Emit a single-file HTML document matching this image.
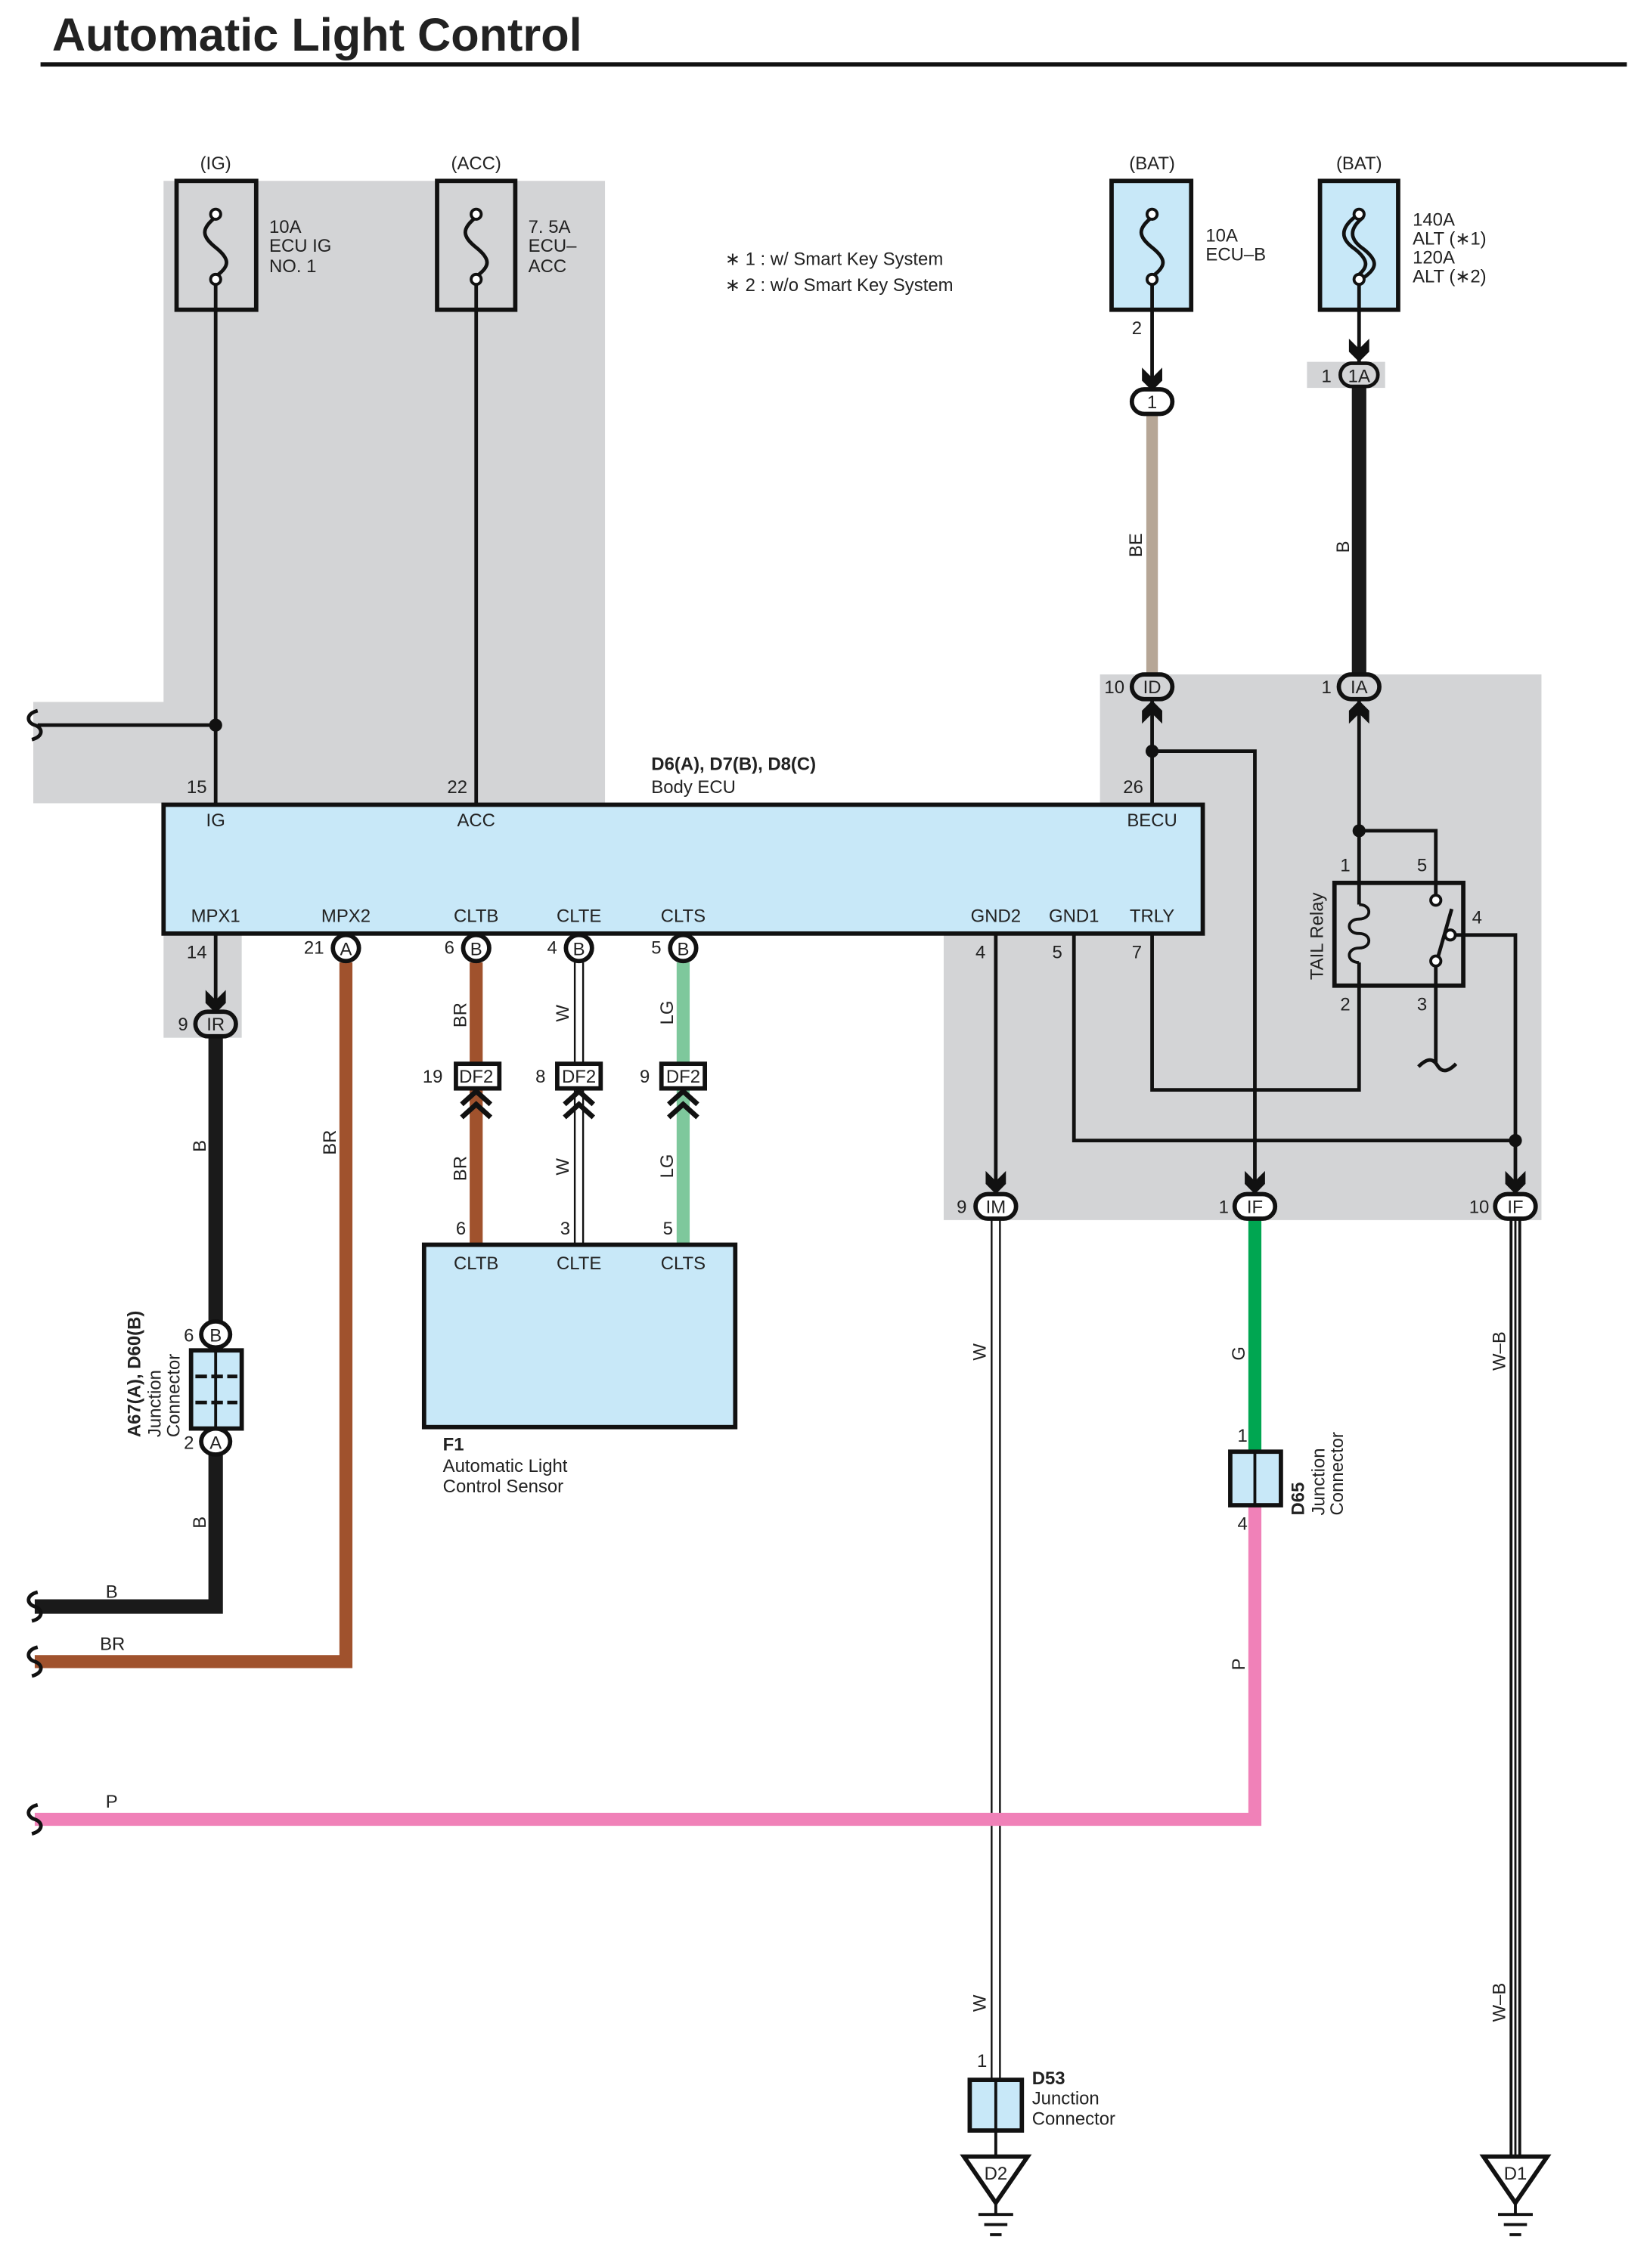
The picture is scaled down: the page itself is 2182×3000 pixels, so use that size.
<!DOCTYPE html>
<html><head><meta charset="utf-8"><style>
html,body{margin:0;padding:0;background:#fff}
svg{display:block}
text{font-family:"Liberation Sans",sans-serif;font-size:12.5px;fill:#222}
.b{font-weight:bold}
</style></head><body>
<svg width="2182" height="3000" viewBox="0 0 1140 1567" preserveAspectRatio="none" xmlns="http://www.w3.org/2000/svg">
<defs>
<g id="ad"><path d="M-7,-16 L0,-9 L7,-16 L7,-7 L0,0 L-7,-7 Z" fill="#111"/></g>
<g id="au"><path d="M-7,16 L0,9 L7,16 L7,7 L0,0 L-7,7 Z" fill="#111"/></g>
<g id="chev"><path d="M-10,10 L0,1 L10,10 M-10,19 L0,10 L10,19" fill="none" stroke="#111" stroke-width="3.5"/></g>
<g id="brk"><path d="M2,-10 C-6,-8 -6,-2 0,0 C6,2 6,8 -2,10" fill="none" stroke="#111" stroke-width="2.5"/></g>
<g id="gnd"><path d="M-22,0 L22,0 L0,32 Z" fill="#fff" stroke="#111" stroke-width="3"/><path d="M0,32 V40 M-12,40 H12 M-8,47 H8 M-4,54 H4" stroke="#111" stroke-width="2"/></g>
</defs>

<text x="36" y="35" class="b" style="font-size:32px">Automatic Light Control</text>
<rect x="28" y="43" width="1096" height="3" fill="#111"/>

<path d="M113,125 H418 V555 H23 V485 H113 Z" fill="#d3d4d6"/>
<rect x="113" y="645" width="54" height="72" fill="#d3d4d6"/>
<path d="M760,466 H1065 V843 H652 V645 H760 Z" fill="#d3d4d6"/>
<rect x="903" y="250" width="54" height="18" fill="#d3d4d6"/>

<g fill="none" stroke="#111" stroke-width="3">
<rect x="122" y="125" width="55" height="89"/>
<rect x="302" y="125" width="54" height="89"/>
<rect x="768" y="125" width="55" height="89" fill="#c8e8f8"/>
<rect x="912" y="125" width="54" height="89" fill="#c8e8f8"/>
</g>
<g fill="none" stroke="#111" stroke-width="2.5">
<path d="M149,150 C139,158 139,163 149,171 C159,179 159,184 149,191"/>
<path d="M329,150 C319,158 319,163 329,171 C339,179 339,184 329,191"/>
<path d="M796,150 C786,158 786,163 796,171 C806,179 806,184 796,191"/>
<path d="M936,150 C926,158 926,165 936,172 C946,180 946,185 936,192"/>
<path d="M942,150 C932,158 932,165 942,172 C952,180 952,185 942,192"/>
</g>
<g fill="#fff" stroke="#111" stroke-width="2">
<circle cx="149" cy="148" r="3.5"/><circle cx="149" cy="193" r="3.5"/>
<circle cx="329" cy="148" r="3.5"/><circle cx="329" cy="193" r="3.5"/>
<circle cx="796" cy="148" r="3.5"/><circle cx="796" cy="193" r="3.5"/>
<circle cx="939" cy="148" r="3.5"/><circle cx="939" cy="193" r="3.5"/>
</g>
<text x="149" y="117" text-anchor="middle">(IG)</text>
<text x="329" y="117" text-anchor="middle">(ACC)</text>
<text x="796" y="117" text-anchor="middle">(BAT)</text>
<text x="939" y="117" text-anchor="middle">(BAT)</text>
<text x="186" y="161">10A</text><text x="186" y="174">ECU IG</text><text x="186" y="188">NO. 1</text>
<text x="365" y="161">7. 5A</text><text x="365" y="174">ECU–</text><text x="365" y="188">ACC</text>
<text x="833" y="167">10A</text><text x="833" y="180">ECU–B</text>
<text x="976" y="156">140A</text><text x="976" y="169">ALT (∗1)</text><text x="976" y="182">120A</text><text x="976" y="195">ALT (∗2)</text>
<text x="501" y="183">∗ 1 : w/ Smart Key System</text>
<text x="501" y="201">∗ 2 : w/o Smart Key System</text>

<g stroke="#111" stroke-width="2.5" fill="none">
<path d="M149,197 V556"/><path d="M329,197 V556"/>
<path d="M26,501 H149"/>
</g>
<circle cx="149" cy="501" r="4.5" fill="#111"/>
<use href="#brk" x="24" y="501"/>
<text x="129" y="548">15</text><text x="309" y="548">22</text>
<text x="450" y="532" class="b">D6(A), D7(B), D8(C)</text>
<text x="450" y="548">Body ECU</text>

<rect x="113" y="556" width="718" height="89" fill="#c8e8f8" stroke="#111" stroke-width="3"/>
<g text-anchor="middle">
<text x="149" y="571">IG</text><text x="329" y="571">ACC</text><text x="796" y="571">BECU</text>
<text x="149" y="637">MPX1</text><text x="239" y="637">MPX2</text><text x="329" y="637">CLTB</text><text x="400" y="637">CLTE</text><text x="472" y="637">CLTS</text>
<text x="688" y="637">GND2</text><text x="742" y="637">GND1</text><text x="796" y="637">TRLY</text>
</g>

<path d="M796,197 V270" stroke="#111" stroke-width="2.5"/>
<use href="#ad" x="796" y="270"/>
<text x="782" y="231">2</text>
<path d="M796,285 V466" stroke="#b6a696" stroke-width="8"/>
<text transform="translate(789,385) rotate(-90)">BE</text>
<path d="M939,197 V250" stroke="#111" stroke-width="2.5"/>
<use href="#ad" x="939" y="250"/>
<text x="913" y="264">1</text>
<rect x="926" y="251" width="26" height="16" rx="8" fill="#d3d4d6" stroke="#111" stroke-width="2.5"/>
<text x="939" y="264" text-anchor="middle">1A</text>
<path d="M939,268 V466" stroke="#1a1a1a" stroke-width="10"/>
<text transform="translate(932,382) rotate(-90)">B</text>
<rect x="782" y="269" width="28" height="17" rx="8.5" fill="#fff" stroke="#111" stroke-width="3"/>
<text x="796" y="282" text-anchor="middle">1</text>

<g stroke="#111" stroke-width="2.5" fill="none">
<path d="M796,484 V556"/>
<path d="M796,519 H867 V825"/>
<path d="M939,484 V625 M939,665 V753 H796 V645"/>
<path d="M939,574 H992 V619"/>
<path d="M992,667 V735"/>
<path d="M980,737 C986,731 990,731 993,736 C996,741 1000,741 1006,735"/>
<path d="M1006,646 H1047 V825"/>
<path d="M742,645 V788 H1047"/>
<path d="M688,645 V825"/>
<path d="M939,625 C948,625 948,635 939,635 C930,635 930,645 939,645 C948,645 948,655 939,655 C930,655 930,665 939,665" stroke-width="2"/>
<path d="M993,663 L1003,628"/>
</g>
<rect x="922" y="610" width="89" height="71" fill="none" stroke="#111" stroke-width="3"/>
<g fill="#fff" stroke="#111" stroke-width="2"><circle cx="992" cy="622" r="3.5"/><circle cx="1002" cy="646" r="3.5"/><circle cx="992" cy="664" r="3.5"/></g>
<circle cx="796" cy="519" r="4.5" fill="#111"/>
<circle cx="939" cy="574" r="4.5" fill="#111"/>
<circle cx="1047" cy="788" r="4.5" fill="#111"/>
<use href="#au" x="796" y="484"/><use href="#au" x="939" y="484"/>
<use href="#ad" x="688" y="825"/><use href="#ad" x="867" y="825"/><use href="#ad" x="1047" y="825"/>
<text x="926" y="602">1</text><text x="979" y="602">5</text><text x="1017" y="638">4</text><text x="926" y="698">2</text><text x="979" y="698">3</text>
<text transform="translate(914,677) rotate(-90)">TAIL Relay</text>
<text x="776" y="548">26</text>
<text x="674" y="662">4</text><text x="727" y="662">5</text><text x="782" y="662">7</text>
<g fill="#d3d4d6" stroke="#111" stroke-width="3">
<rect x="782" y="466" width="28" height="17" rx="8.5"/>
<rect x="925" y="466" width="28" height="17" rx="8.5"/>
</g>
<text x="796" y="479" text-anchor="middle">ID</text><text x="939" y="479" text-anchor="middle">IA</text>
<text x="763" y="479">10</text><text x="913" y="479">1</text>

<path d="M688,843 V1437" stroke="#111" stroke-width="7"/><path d="M688,843 V1437" stroke="#fff" stroke-width="4.5"/>
<path d="M867,843 V1003" stroke="#00a651" stroke-width="9"/>
<path d="M867,1040 V1257 H24" stroke="#f081b8" stroke-width="9" fill="none"/>
<path d="M1047,843 V1490" stroke="#111" stroke-width="8"/><path d="M1047,843 V1490" stroke="#fff" stroke-width="4"/><path d="M1047,843 V1490" stroke="#111" stroke-width="1.5"/>
<g fill="#fff" stroke="#111" stroke-width="3">
<rect x="674" y="825" width="28" height="17" rx="8.5"/>
<rect x="853" y="825" width="28" height="17" rx="8.5"/>
<rect x="1033" y="825" width="28" height="17" rx="8.5"/>
</g>
<text x="688" y="838" text-anchor="middle">IM</text><text x="867" y="838" text-anchor="middle">IF</text><text x="1047" y="838" text-anchor="middle">IF</text>
<text x="661" y="838">9</text><text x="842" y="838">1</text><text x="1015" y="838">10</text>
<text transform="translate(681,940) rotate(-90)">W</text>
<text transform="translate(681,1390) rotate(-90)">W</text>
<text transform="translate(860,940) rotate(-90)">G</text>
<text transform="translate(860,1154) rotate(-90)">P</text>
<text transform="translate(1040,947) rotate(-90)">W–B</text>
<text transform="translate(1040,1397) rotate(-90)">W–B</text>
<text x="73" y="1249">P</text>
<use href="#brk" x="24" y="1257"/>

<rect x="850" y="1003" width="35" height="37" fill="#c8e8f8" stroke="#111" stroke-width="3"/>
<path d="M867,1003 V1040" stroke="#111" stroke-width="2"/>
<text x="855" y="996">1</text><text x="855" y="1057">4</text>
<text transform="translate(901,1047) rotate(-90)" class="b">D65</text>
<text transform="translate(915,1047) rotate(-90)">Junction</text>
<text transform="translate(928,1047) rotate(-90)">Connector</text>
<rect x="670" y="1437" width="36" height="35" fill="#c8e8f8" stroke="#111" stroke-width="3"/>
<path d="M688,1437 V1472 M688,1472 V1490" stroke="#111" stroke-width="2"/>
<text x="675" y="1428">1</text>
<text x="713" y="1440" class="b">D53</text><text x="713" y="1454">Junction</text><text x="713" y="1468">Connector</text>
<use href="#gnd" x="688" y="1490"/><text x="688" y="1506" text-anchor="middle">D2</text>
<use href="#gnd" x="1047" y="1490"/><text x="1047" y="1506" text-anchor="middle">D1</text>

<path d="M149,645 V700" stroke="#111" stroke-width="2.5"/>
<use href="#ad" x="149" y="700"/>
<text x="129" y="662">14</text>
<path d="M149,717 V1110 H24" stroke="#1a1a1a" stroke-width="10" fill="none"/>
<rect x="132" y="933" width="35" height="54" fill="#c8e8f8" stroke="#111" stroke-width="3"/>
<path d="M149,933 V987" stroke="#111" stroke-width="2"/>
<path d="M135,951 H164 M135,969 H164" stroke="#111" stroke-width="2.5" stroke-dasharray="8,3"/>
<rect x="135" y="699" width="28" height="17" rx="8.5" fill="#d3d4d6" stroke="#111" stroke-width="3"/>
<text x="149" y="712" text-anchor="middle">IR</text><text x="123" y="712">9</text>
<ellipse cx="149" cy="922" rx="10" ry="9" fill="#fff" stroke="#111" stroke-width="3"/>
<text x="149" y="927" text-anchor="middle">B</text><text x="127" y="927">6</text>
<ellipse cx="149" cy="996" rx="10" ry="9" fill="#fff" stroke="#111" stroke-width="3"/>
<text x="149" y="1001" text-anchor="middle">A</text><text x="127" y="1001">2</text>
<text transform="translate(142,796) rotate(-90)">B</text>
<text transform="translate(142,1056) rotate(-90)">B</text>
<text x="73" y="1104">B</text>
<text transform="translate(97,993) rotate(-90)" class="b">A67(A), D60(B)</text>
<text transform="translate(111,993) rotate(-90)">Junction</text>
<text transform="translate(124,993) rotate(-90)">Connector</text>
<use href="#brk" x="24" y="1110"/>

<path d="M239,665 V1148 H24" stroke="#a0522d" stroke-width="9" fill="none"/>
<text transform="translate(232,798) rotate(-90)">BR</text>
<text x="69" y="1140">BR</text>
<use href="#brk" x="24" y="1148"/>

<path d="M329,665 V736 M329,752 V860" stroke="#a0522d" stroke-width="9"/>
<path d="M400,665 V860" stroke="#111" stroke-width="7"/><path d="M400,665 V860" stroke="#fff" stroke-width="4.5"/>
<path d="M472,665 V736 M472,752 V860" stroke="#7ec89c" stroke-width="9"/>
<g fill="#fff" stroke="#111" stroke-width="3">
<ellipse cx="239" cy="655" rx="9" ry="9"/><ellipse cx="329" cy="655" rx="9" ry="9"/><ellipse cx="400" cy="655" rx="9" ry="9"/><ellipse cx="472" cy="655" rx="9" ry="9"/>
<rect x="315" y="735" width="30" height="17"/><rect x="385" y="735" width="30" height="17"/><rect x="457" y="735" width="30" height="17"/>
</g>
<g text-anchor="middle">
<text x="239" y="660">A</text><text x="329" y="660">B</text><text x="400" y="660">B</text><text x="472" y="660">B</text>
<text x="329" y="748">DF2</text><text x="400" y="748">DF2</text><text x="472" y="748">DF2</text>
</g>
<text x="210" y="659">21</text><text x="307" y="659">6</text><text x="378" y="659">4</text><text x="450" y="659">5</text>
<text x="292" y="748">19</text><text x="370" y="748">8</text><text x="442" y="748">9</text>
<use href="#chev" x="329" y="753"/><use href="#chev" x="400" y="753"/><use href="#chev" x="472" y="753"/>
<text transform="translate(322,710) rotate(-90)">BR</text><text transform="translate(322,816) rotate(-90)">BR</text>
<text transform="translate(393,706) rotate(-90)">W</text><text transform="translate(393,812) rotate(-90)">W</text>
<text transform="translate(465,708) rotate(-90)">LG</text><text transform="translate(465,814) rotate(-90)">LG</text>
<text x="315" y="853">6</text><text x="387" y="853">3</text><text x="458" y="853">5</text>

<rect x="293" y="860" width="215" height="126" fill="#c8e8f8" stroke="#111" stroke-width="3"/>
<g text-anchor="middle"><text x="329" y="877">CLTB</text><text x="400" y="877">CLTE</text><text x="472" y="877">CLTS</text></g>
<text x="306" y="1002" class="b">F1</text>
<text x="306" y="1017">Automatic Light</text>
<text x="306" y="1031">Control Sensor</text>
</svg>
</body></html>
